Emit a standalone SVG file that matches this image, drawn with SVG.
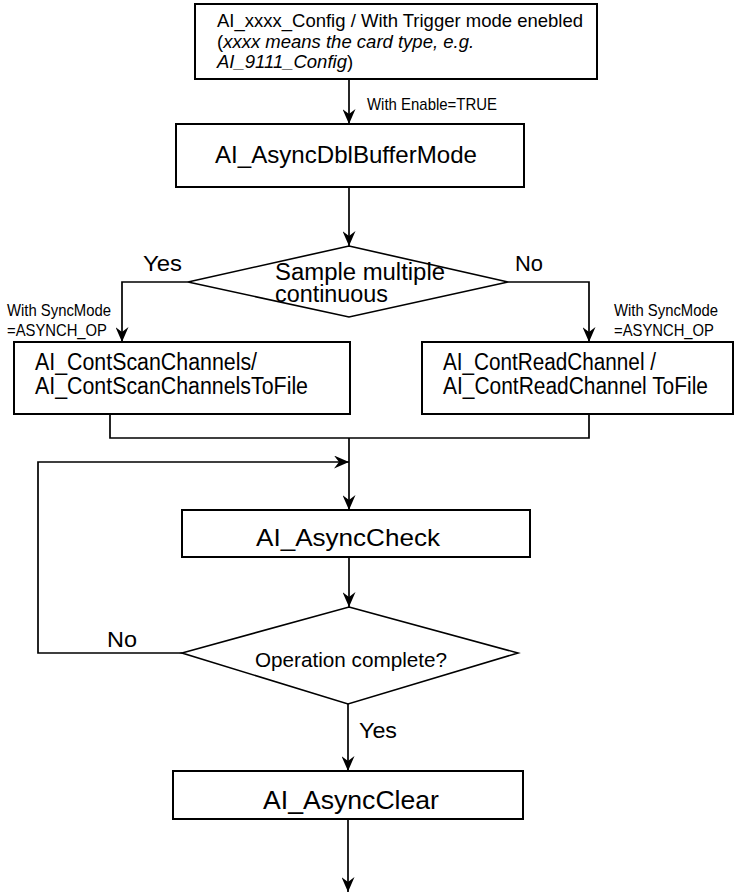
<svg xmlns="http://www.w3.org/2000/svg" width="735" height="893" viewBox="0 0 735 893">
  <style>
    text { font-family: "Liberation Sans", Arial, sans-serif; fill: #000; }
    .box { fill: #fff; stroke: #000; stroke-width: 2; }
    .dia { fill: #fff; stroke: #000; stroke-width: 1.6; }
    .ln { fill: none; stroke: #000; stroke-width: 1.7; }
    .arr { fill: none; stroke: #000; stroke-width: 1.7; marker-end: url(#head); }
    .note { font-size: 17px; }
    .lbl { font-size: 22px; }
  </style>
  <defs>
    <marker id="head" markerUnits="userSpaceOnUse" viewBox="0 0 15 13" markerWidth="15" markerHeight="13" refX="15" refY="6.5" orient="auto">
      <path d="M0,0 L15,6.5 L0,13 L5,6.5 Z" fill="#000"/>
    </marker>
  </defs>

  <!-- connectors -->
  <g id="connectors">
    <line class="arr" x1="349" y1="79" x2="349" y2="124"/>
    <line class="arr" x1="349" y1="187" x2="349" y2="246"/>
    <polyline class="arr" points="188,282 122,282 122,342"/>
    <polyline class="arr" points="508,282 589,282 589,342"/>
    <polyline class="ln" points="110,414 110,438 589,438 589,414"/>
    <line class="arr" x1="349" y1="438" x2="349" y2="510"/>
    <polyline class="arr" points="182,653 38,653 38,462 349,462"/>
    <line class="arr" x1="349" y1="557" x2="349" y2="607"/>
    <line class="arr" x1="348" y1="704" x2="348" y2="771"/>
    <line class="arr" x1="348" y1="819" x2="348" y2="892"/>
    <text class="note" x="367" y="110" textLength="130" lengthAdjust="spacingAndGlyphs">With Enable=TRUE</text>
    <text class="lbl" x="143" y="271" textLength="39" lengthAdjust="spacingAndGlyphs">Yes</text>
    <text class="lbl" x="515" y="271" textLength="28" lengthAdjust="spacingAndGlyphs">No</text>
    <text class="note" x="7" y="316" textLength="104" lengthAdjust="spacingAndGlyphs">With SyncMode</text>
    <text class="note" x="7" y="336" textLength="100" lengthAdjust="spacingAndGlyphs">=ASYNCH_OP</text>
    <text class="note" x="614" y="316" textLength="104" lengthAdjust="spacingAndGlyphs">With SyncMode</text>
    <text class="note" x="614" y="336" textLength="100" lengthAdjust="spacingAndGlyphs">=ASYNCH_OP</text>
    <text class="lbl" x="107" y="647" textLength="30" lengthAdjust="spacingAndGlyphs">No</text>
    <text class="lbl" x="359" y="738" textLength="38" lengthAdjust="spacingAndGlyphs">Yes</text>
  </g>

  <!-- configuration step -->
  <g id="config">
    <rect class="box" x="195" y="4" width="402" height="75"/>
    <text x="217" y="27" font-size="18.5" textLength="366" lengthAdjust="spacingAndGlyphs">AI_xxxx_Config / With Trigger mode enebled</text>
    <text x="217" y="48" font-size="18.5">(<tspan font-style="italic">xxxx means the card type, e.g.</tspan></text>
    <text x="217" y="68" font-size="18.5"><tspan font-style="italic">AI_9111_Config</tspan>)</text>
  </g>

  <g id="dblbuffer">
    <rect class="box" x="176" y="124" width="348" height="63"/>
    <text x="215" y="163" font-size="24" textLength="262" lengthAdjust="spacingAndGlyphs">AI_AsyncDblBufferMode</text>
  </g>

  <g id="decision-continuous">
    <polygon class="dia" points="349,246 508,282 349,317 188,282"/>
    <text x="275" y="280" font-size="23" textLength="170" lengthAdjust="spacingAndGlyphs">Sample multiple</text>
    <text x="275" y="302" font-size="23" textLength="113" lengthAdjust="spacingAndGlyphs">continuous</text>
  </g>

  <g id="scan-channels">
    <rect class="box" x="14" y="342" width="336" height="72"/>
    <text x="35" y="370" font-size="23" textLength="222" lengthAdjust="spacingAndGlyphs">AI_ContScanChannels/</text>
    <text x="35" y="394" font-size="23" textLength="273" lengthAdjust="spacingAndGlyphs">AI_ContScanChannelsToFile</text>
  </g>

  <g id="read-channel">
    <rect class="box" x="422" y="342" width="311" height="72"/>
    <text x="443" y="370" font-size="23" textLength="213" lengthAdjust="spacingAndGlyphs">AI_ContReadChannel /</text>
    <text x="443" y="394" font-size="23" textLength="265" lengthAdjust="spacingAndGlyphs">AI_ContReadChannel ToFile</text>
  </g>

  <g id="async-check">
    <rect class="box" x="182" y="510" width="348" height="47"/>
    <text x="256" y="546" font-size="24" textLength="184" lengthAdjust="spacingAndGlyphs">AI_AsyncCheck</text>
  </g>

  <g id="decision-complete">
    <polygon class="dia" points="349,607 518,653 348,704 182,653"/>
    <text x="255" y="667" font-size="20.5" textLength="192" lengthAdjust="spacingAndGlyphs">Operation complete?</text>
  </g>

  <g id="async-clear">
    <rect class="box" x="173" y="771" width="350" height="48"/>
    <text x="263" y="809" font-size="25" textLength="176" lengthAdjust="spacingAndGlyphs">AI_AsyncClear</text>
  </g>
</svg>
